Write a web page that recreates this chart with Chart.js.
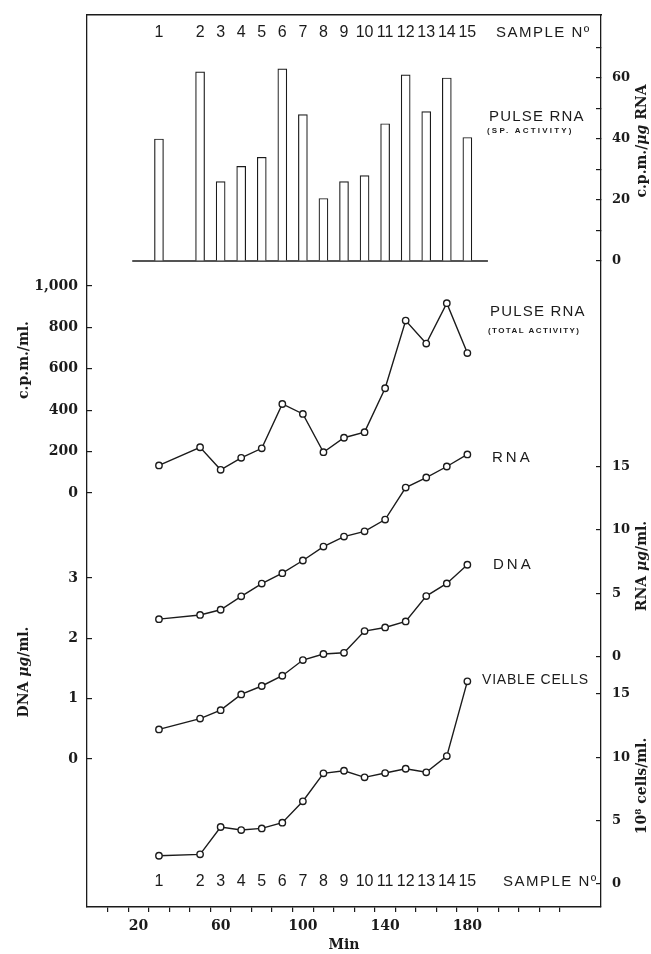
<!DOCTYPE html>
<html>
<head>
<meta charset="utf-8">
<script src="https://cdn.jsdelivr.net/npm/chart.js@4.4.1/dist/chart.umd.min.js"></script>
<style>
	html, body { margin: 0; padding: 0; background: #fff; }
	#wrap { width: 651px; height: 954px; }
</style>
</head>
<body>
<div id="wrap"><canvas id="myChart" width="651" height="954"></canvas></div>
<script>

// sample numbers and the minute at which each was taken
const sampleNo = ['1', '2', '3', '4', '5', '6', '7', '8', '9', '10', '11', '12', '13', '14', '15'];
const sampleMin = [30, 50, 60, 70, 80, 90, 100, 110, 120, 130, 140, 150, 160, 170, 180];

// pulse RNA, specific activity (c.p.m./ug RNA) - bars
const pulseSpecific = [40, 62, 26, 31, 34, 63, 48, 20.5, 26, 28, 45, 61, 49, 60, 40.5];

// pulse RNA, total activity (c.p.m./ml.)
const pulseTotal = [133, 221, 112, 170, 216, 430, 382, 197, 267, 294, 506, 833, 722, 917, 676];

// RNA ug/ml.
const rnaConc = [2.95, 3.28, 3.69, 4.75, 5.76, 6.58, 7.58, 8.68, 9.47, 9.88, 10.81, 13.34, 14.13, 15.0, 15.95];

// DNA ug/ml.
const dnaConc = [0.49, 0.67, 0.81, 1.07, 1.21, 1.38, 1.64, 1.74, 1.76, 2.12, 2.18, 2.28, 2.70, 2.91, 3.22];

// viable cells, 10^8 cells/ml.
const viableCells = [2.23, 2.34, 4.5, 4.26, 4.39, 4.84, 6.53, 8.74, 8.94, 8.42, 8.76, 9.1, 8.82, 10.1, 16.0];

// labelled minutes on the time axis
const minuteLabels = [20, 60, 100, 140, 180];

// extent of the line under the bars, in minutes
const barBaseMin = [17, 190];


const INK = '#1b1b1b';
const NONE = 'rgba(0,0,0,0)';
const SERIF = '"DejaVu Serif", "Liberation Serif", serif';
const SANS = '"Liberation Sans", Arial, sans-serif';

const AREA_TOP = 15;
const AREA_BOTTOM = 907;
const AREA_LEFT = 87;
const AREA_RIGHT = 601;


const measureCtx = document.createElement('canvas').getContext('2d');

function textWidth(str, size)
{
	measureCtx.font = 'bold ' + size + 'px ' + SERIF;
	return measureCtx.measureText(str).width;
}


// every y axis spans the whole plot height; pick min/max so that two values land on given pixels
function axisRange(v0, p0, v1, p1)
{
	const perPx = (v1 - v0) / (p0 - p1);
	return {'min': v0 - (AREA_BOTTOM - p0) * perPx, 'max': v0 + (p0 - AREA_TOP) * perPx};
}


// axes take no room of their own, the plot area is fixed by the layout padding
function noRoom(scale, size)
{
	if (scale.isHorizontal()) scale.height = size;
	else scale.width = size;
	scale.paddingTop = 0;
	scale.paddingBottom = 0;
	scale.paddingLeft = 0;
	scale.paddingRight = 0;
}


function yAxis(position, anchors, step, lo, hi, labelStep, showBorder)
{
	const range = axisRange(anchors[0], anchors[1], anchors[2], anchors[3]);
	const inside = (v) => v >= lo - 1e-6 && v <= hi + 1e-6;
	const fmt = (v) => Math.round(v).toLocaleString('en-US');
	const size = position === 'left' ? 14 : 13;

	let widest = 0;
	for (let v = lo; v <= hi; v += labelStep)
	{
		widest = Math.max(widest, textWidth(fmt(v), size));
	}

	// labels are mirrored (so they are not clipped to a zero-width box) and pushed back outside
	const pad = position === 'left' ? -(9 + widest) : (11 + widest);

	return {
		type: 'linear',
		position: position,
		min: range['min'],
		max: range['max'],
		afterFit: (scale) => noRoom(scale, 0),
		border: { display: showBorder, color: INK, width: 1.3 },
		grid: {
			drawOnChartArea: false,
			drawTicks: true,
			tickLength: -5,
			lineWidth: 1.2,
			tickColor: (c) => (c.tick && inside(c.tick.value)) ? INK : NONE,
		},
		ticks: {
			stepSize: step,
			includeBounds: false,
			autoSkip: false,
			mirror: true,
			crossAlign: 'far',
			padding: pad,
			color: INK,
			font: { family: SERIF, size: size, weight: 'bold' },
			callback: (v) => {
				if (!inside(v)) return '';
				if (Math.round(v) % labelStep !== 0) return '';
				return fmt(v);
			},
		},
	};
}


function setLabel(ctx, font, spacing)
{
	ctx.font = font;
	ctx.letterSpacing = spacing || '0px';
}


// rotated title made of pieces with their own fonts (for the italic mu-g)
function verticalTitle(ctx, pieces, x, y)
{
	ctx.save();
	ctx.translate(x, y);
	ctx.rotate(-Math.PI / 2);
	ctx.letterSpacing = '0px';
	ctx.textAlign = 'left';

	let total = 0;
	for (let p of pieces)
	{
		ctx.font = p[1];
		total += ctx.measureText(p[0]).width;
	}

	let pos = -total / 2;
	for (let p of pieces)
	{
		ctx.font = p[1];
		ctx.fillText(p[0], pos, 0);
		pos += ctx.measureText(p[0]).width;
	}
	ctx.restore();
}


const annotations = {
	id: 'annotations',
	afterDraw(chart)
	{
		const ctx = chart.ctx;
		const xs = chart.scales['x'];

		ctx.save();
		ctx.fillStyle = INK;
		ctx.textBaseline = 'middle';

		// sample numbers, top and bottom rows
		ctx.textAlign = 'center';
		setLabel(ctx, '16px ' + SANS, '0px');
		sampleNo.forEach((n, i) => {
			const px = xs.getPixelForValue(sampleMin[i]);
			ctx.fillText(n, px, 33);
			ctx.fillText(n, px, 882);
		});

		ctx.textAlign = 'left';
		setLabel(ctx, '15px ' + SANS, '1.5px');
		ctx.fillText('SAMPLE N\u00ba', 496, 33);
		ctx.fillText('SAMPLE N\u00ba', 503, 882);

		setLabel(ctx, '15px ' + SANS, '1.2px');
		ctx.fillText('PULSE RNA', 489, 117);
		ctx.fillText('PULSE RNA', 490, 312);

		setLabel(ctx, 'bold 8px ' + SANS, '2.2px');
		ctx.fillText('(SP. ACTIVITY)', 487, 131);
		setLabel(ctx, 'bold 8px ' + SANS, '1.4px');
		ctx.fillText('(TOTAL ACTIVITY)', 488, 331);

		setLabel(ctx, '15px ' + SANS, '3px');
		ctx.fillText('RNA', 492, 458);
		ctx.fillText('DNA', 493, 565);

		setLabel(ctx, '14px ' + SANS, '0.8px');
		ctx.fillText('VIABLE CELLS', 482, 680);

		// axis titles
		const tf = 'bold 14px ' + SERIF;
		const ti = 'italic bold 14px ' + SERIF;
		verticalTitle(ctx, [['c.p.m./', tf], ['\u03bcg', ti], [' RNA', tf]], 642, 141);
		verticalTitle(ctx, [['RNA ', tf], ['\u03bcg', ti], ['/ml.', tf]], 642, 566);
		verticalTitle(ctx, [['10\u2078 cells/ml.', tf]], 642, 786);
		verticalTitle(ctx, [['c.p.m./ml.', tf]], 24, 360);
		verticalTitle(ctx, [['DNA ', tf], ['\u03bcg', ti], ['/ml.', tf]], 24, 672);

		ctx.restore();
	}
};


function points(values)
{
	return sampleMin.map((m, i) => ({'x': m, 'y': values[i]}));
}


function lineSet(values, axisId)
{
	return {
		type: 'line',
		data: points(values),
		yAxisID: axisId,
		borderColor: INK,
		borderWidth: 1.4,
		tension: 0,
		pointRadius: 3.2,
		pointBorderWidth: 1.4,
		pointBackgroundColor: '#fff',
		pointBorderColor: INK,
	};
}


window.onload = function()
{
	const canvas = document.getElementById('myChart').getContext('2d');

	new Chart(canvas, {
		type: 'line',
		data: {
			datasets: [
				{
					type: 'bar',
					data: points(pulseSpecific),
					yAxisID: 'yBar',
					backgroundColor: '#fff',
					borderColor: INK,
					borderWidth: 1.2,
					barThickness: 9,
				},
				{
					type: 'line',
					data: barBaseMin.map((m) => ({'x': m, 'y': 0})),
					yAxisID: 'yBar',
					borderColor: INK,
					borderWidth: 1.4,
					pointRadius: 0,
				},
				lineSet(pulseTotal, 'yCpm'),
				lineSet(rnaConc, 'yRna'),
				lineSet(dnaConc, 'yDna'),
				lineSet(viableCells, 'yCells'),
			],
		},
		options: {
			responsive: false,
			devicePixelRatio: 1,
			animation: false,
			events: [],
			layout: { padding: { left: AREA_LEFT, right: 651 - AREA_RIGHT, top: AREA_TOP, bottom: 0 } },
			plugins: { legend: { display: false }, tooltip: { enabled: false } },
			scales: {
				x: {
					type: 'linear',
					position: 'bottom',
					min: 0,
					max: 240,
					afterFit: (scale) => noRoom(scale, 954 - AREA_BOTTOM),
					border: { display: true, color: INK, width: 1.4 },
					grid: {
						drawOnChartArea: false,
						tickLength: 5,
						lineWidth: 1.2,
						tickColor: (c) => (c.tick && c.tick.value > 0 && c.tick.value < 240) ? INK : NONE,
					},
					ticks: {
						stepSize: 10,
						autoSkip: false,
						maxRotation: 0,
						padding: 6,
						color: INK,
						font: { family: SERIF, size: 14, weight: 'bold' },
						callback: (v) => minuteLabels.includes(v) ? String(v) : '',
					},
					title: {
						display: true,
						text: 'Min',
						color: INK,
						font: { family: SERIF, size: 14, weight: 'bold', lineHeight: 1.2 },
						padding: { top: 0, bottom: 0 },
					},
				},
				xTop: {
					type: 'linear',
					axis: 'x',
					position: 'top',
					min: 0,
					max: 240,
					afterFit: (scale) => noRoom(scale, 0),
					border: { display: true, color: INK, width: 1.4 },
					grid: { drawOnChartArea: false, drawTicks: false },
					ticks: { display: false },
				},
				yCpm: yAxis('left', [0, 493, 1000, 286], 200, 0, 1000, 200, true),
				yDna: yAxis('left', [0, 759, 3, 578], 1, 0, 3, 1, false),
				yBar: yAxis('right', [0, 261, 60, 78], 10, 0, 70, 20, true),
				yRna: yAxis('right', [0, 656.5, 15, 466.5], 5, 0, 15, 5, false),
				yCells: yAxis('right', [0, 884, 15, 694], 5, 0, 15, 5, false),
			},
		},
		plugins: [annotations],
	});
};

</script>
</body>
</html>
